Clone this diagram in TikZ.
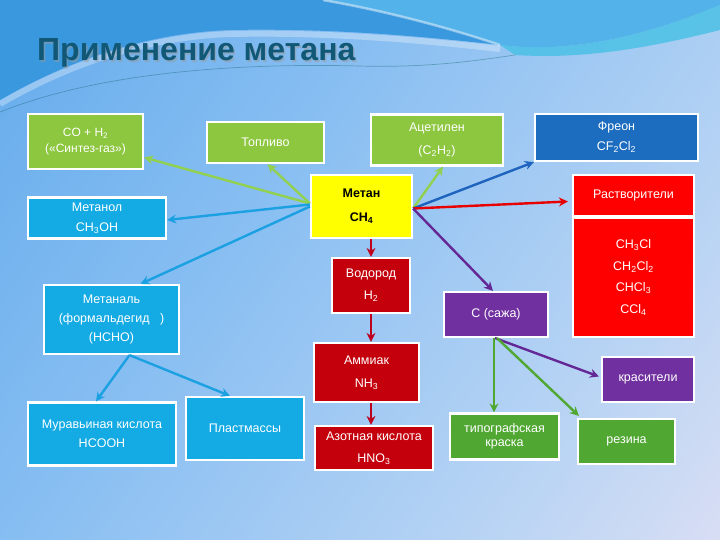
\documentclass[tikz,border=0pt]{standalone}
\usepackage{fontspec}
\setmainfont{Liberation Sans}
\usetikzlibrary{arrows.meta,calc}
\definecolor{bgA}{RGB}{80,160,232}
\definecolor{bgB}{RGB}{135,190,242}
\definecolor{bgC}{RGB}{185,212,244}
\definecolor{bgD}{RGB}{248,232,244}
\definecolor{topL}{RGB}{58,152,222}
\definecolor{topR}{RGB}{84,178,234}
\definecolor{band}{RGB}{70,192,228}
\definecolor{ttl}{RGB}{16,88,118}
\definecolor{cgl}{RGB}{141,198,63}
\definecolor{ccy}{RGB}{20,170,228}
\definecolor{cyel}{RGB}{255,255,0}
\definecolor{cblu}{RGB}{28,108,192}
\definecolor{cred}{RGB}{255,0,0}
\definecolor{cdr}{RGB}{196,0,12}
\definecolor{cpur}{RGB}{112,48,160}
\definecolor{cgd}{RGB}{80,168,50}
\definecolor{agl}{RGB}{146,208,80}
\definecolor{acy}{RGB}{27,160,226}
\definecolor{ablu}{RGB}{30,100,190}
\definecolor{ared}{RGB}{232,0,0}
\definecolor{apur}{RGB}{100,40,150}
\definecolor{adr}{RGB}{190,0,30}
\definecolor{agd}{RGB}{80,168,50}
\pgfdeclarehorizontalshading{bgsh}{100bp}{color(0bp)=(bgA); color(40bp)=(bgB); color(70bp)=(bgC); color(100bp)=(bgD)}
\begin{document}
\begin{tikzpicture}[x=1pt,y=-1pt,
  box/.style={draw=white, line width=2.2pt, text=white, align=center, inner sep=0pt,
    font=\fontsize{12.5}{20}\selectfont},
  arr/.style={line width=2.4pt, -{Stealth[length=9pt,width=9pt]}},
]
\useasboundingbox (0,0) rectangle (720,540);
% background
\fill[shading=bgsh, shading angle=-35] (0,0) rectangle (720,540);
\fill[topL] (0,0) -- (0,100) .. controls (60,65) and (140,33) .. (230,30)
  .. controls (330,28) and (420,36) .. (500,45)
  .. controls (440,25) and (380,10) .. (323,0) -- cycle;
\fill[topR] (323,0) .. controls (380,10) and (440,25) .. (500,45)
  .. controls (580,55) and (660,30) .. (720,5) -- (720,0) -- cycle;
\fill[band, opacity=0.8] (500,45) .. controls (580,55) and (660,30) .. (720,5)
  -- (720,30) .. controls (660,45) and (590,60) .. (515,55) -- cycle;
\draw[white, opacity=0.45, line width=2.5pt] (323,0) .. controls (380,10) and (440,25) .. (500,45);
\draw[white, opacity=0.3, line width=6pt] (0,104) .. controls (60,69) and (140,37) .. (230,34)
  .. controls (330,32) and (420,40) .. (500,49);
\draw[teal!70!black, opacity=0.35, line width=0.7pt] (0,112) .. controls (80,80) and (200,62) .. (360,66)
  .. controls (430,68) and (480,60) .. (515,55);
% title
\node[font=\fontsize{32}{36}\selectfont\bfseries, text=black!40, opacity=0.5, anchor=base west, inner sep=0pt] (tsh) at (38.5,62.5) {Применение метана};
\node[font=\fontsize{32}{36}\selectfont\bfseries, text=ttl, anchor=base west, inner sep=0pt] (title) at (37,61) {Применение метана};
% boxes
\node[box, fill=cgl, minimum width=115pt, minimum height=55pt, font=\fontsize{12}{16}\selectfont] (co) at (85.5,141.5) {CO + H\textsubscript{2}\\(«Синтез-газ»)};
\node[box, fill=cgl, minimum width=117pt, minimum height=41pt] (top) at (265.5,142.5) {Топливо};
\node[box, fill=ccy, minimum width=138pt, minimum height=41pt] (mol) at (97,218) {Метанол\\CH\textsubscript{3}OH};
\node[box, fill=cyel, text=black, minimum width=101pt, minimum height=63pt, font=\fontsize{12.5}{24}\selectfont\bfseries] (met) at (361.5,206.5) {Метан\\CH\textsubscript{4}};
\node[box, fill=cgl, minimum width=132pt, minimum height=51pt, font=\fontsize{12.5}{23}\selectfont] (ac) at (437,140) {Ацетилен\\(C\textsubscript{2}H\textsubscript{2})};
\node[box, fill=cblu, minimum width=163pt, minimum height=47pt] (fr) at (616.5,137.5) {Фреон\\CF\textsubscript{2}Cl\textsubscript{2}};
\node[box, fill=cred, minimum width=121pt, minimum height=41pt] (rs) at (633.5,195.5) {Растворители};
\node[box, fill=cred, minimum width=121pt, minimum height=119pt, font=\fontsize{12.5}{21.5}\selectfont] (cl) at (633.5,277.5) {CH\textsubscript{3}Cl\\CH\textsubscript{2}Cl\textsubscript{2}\\CHCl\textsubscript{3}\\CCl\textsubscript{4}};
\node[box, fill=cdr, minimum width=78pt, minimum height=55pt, font=\fontsize{12.5}{22}\selectfont] (h2) at (371,285.5) {Водород\\H\textsubscript{2}};
\node[box, fill=cdr, minimum width=105pt, minimum height=59pt, font=\fontsize{12.5}{23}\selectfont] (nh3) at (366.5,372.5) {Аммиак\\NH\textsubscript{3}};
\node[box, fill=cdr, minimum width=118pt, minimum height=44pt, font=\fontsize{12.5}{22}\selectfont] (hno3) at (374,448) {Азотная кислота\\HNO\textsubscript{3}};
\node[box, fill=cpur, minimum width=104pt, minimum height=45pt] (c) at (496,314.5) {C (сажа)};
\node[box, fill=cpur, minimum width=92pt, minimum height=45pt] (kr) at (648,379.5) {красители};
\node[box, fill=ccy, minimum width=135pt, minimum height=69pt, font=\fontsize{12.5}{19}\selectfont] (mal) at (111.5,319.5) {Метаналь\\(формальдегид\ \ \ )\\(HCHO)};
\node[box, fill=ccy, minimum width=148pt, minimum height=63pt, font=\fontsize{12.5}{19}\selectfont] (mur) at (102,434) {Муравьиная кислота\\HCOOH};
\node[box, fill=ccy, minimum width=118pt, minimum height=63pt] (pl) at (245,428.5) {Пластмассы};
\node[box, fill=cgd, minimum width=109pt, minimum height=46pt, font=\fontsize{12.5}{14}\selectfont] (tip) at (504.5,436.5) {типографская\\краска};
\node[box, fill=cgd, minimum width=97pt, minimum height=45pt] (rez) at (626.5,441.5) {резина};
% arrows from methane
\draw[arr, agl] ([yshift=3pt]met.west) -- ([yshift=-16pt]co.east);
\draw[arr, agl] ([yshift=3pt]met.west) -- ([xshift=2pt]top.south);
\draw[arr, acy] ([yshift=2pt]met.west) -- ([yshift=-2pt]mol.east);
\draw[arr, acy] (met.west) -- ([xshift=29pt]mal.north);
\draw[arr, agl] ([yshift=-2pt]met.east) -- ([xshift=6pt]ac.south);
\draw[arr, ablu] ([yshift=-2pt]met.east) -- (fr.south west);
\draw[arr, ared] ([yshift=-2pt]met.east) -- ([xshift=-4pt,yshift=-6pt]rs.west);
\draw[arr, apur] ([yshift=-2pt]met.east) -- ([xshift=-3pt]c.north);
\draw[arr, adr] (h2.north |- met.south) -- (h2.north);
\draw[arr, adr] (h2.south) -- (h2.south |- nh3.north);
\draw[arr, adr] (h2.south |- nh3.south) -- (h2.south |- hno3.north);
% arrows from soot
\draw[arr, apur] ([xshift=-1pt]c.south) -- ([xshift=-2pt,yshift=3pt]kr.west);
\draw[arr, agd] ([xshift=-2pt]c.south) -- ([xshift=-2pt]c.south |- tip.north);
\draw[arr, agd] ([xshift=1pt]c.south) -- ([xshift=2pt,yshift=2pt]rez.north west);
% arrows from methanal
\draw[arr, acy] ([xshift=18pt]mal.south) -- ([xshift=-6pt]mur.north);
\draw[arr, acy] ([xshift=18pt]mal.south) -- ([xshift=-15pt]pl.north);
\end{tikzpicture}
\end{document}
